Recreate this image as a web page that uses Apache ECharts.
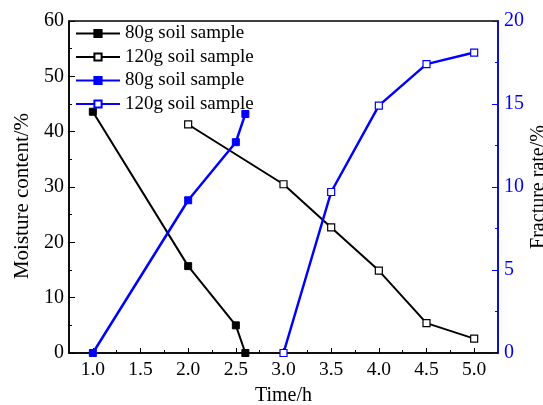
<!DOCTYPE html>
<html>
<head>
<meta charset="utf-8">
<script src="https://cdn.jsdelivr.net/npm/echarts@6/dist/echarts.min.js"></script>
<style>html,body{margin:0;padding:0;background:#fff;}#c{width:543px;height:405px;}</style>
</head>
<body>
<div id="c"></div>
<script>
var xMajorTicks = [1.0, 1.5, 2.0, 2.5, 3.0, 3.5, 4.0, 4.5, 5.0];
var xMinorTicks = [1.25, 1.75, 2.25, 2.75, 3.25, 3.75, 4.25, 4.75];
var moisture80 = [[1.0, 43.6], [2.0, 15.7], [2.5, 5.0], [2.6, 0]];
var moisture120 = [[2.0, 41.3], [3.0, 30.5], [3.5, 22.7], [4.0, 14.9], [4.5, 5.4], [5.0, 2.6]];
var fracture80 = [[1.0, 0], [2.0, 9.2], [2.5, 12.7], [2.6, 14.4]];
var fracture120 = [[3.0, 0], [3.5, 9.7], [4.0, 14.9], [4.5, 17.4], [5.0, 18.1]];
var seriesNames = ['80g soil sample', '120g soil sample', '80g soil sample ', '120g soil sample '];

var FONT = '"Liberation Serif", "Times New Roman", serif';
var BLUE = '#0000ff';
var chart = echarts.init(document.getElementById('c'), null, {renderer: 'canvas'});
chart.setOption({
  animation: false,
  backgroundColor: '#fff',
  grid: {left: 69, right: 45, top: 21, bottom: 52, outerBoundsMode: 'none', containLabel: false,
    show: true, borderColor: '#000', borderWidth: 1.5, backgroundColor: 'transparent'},
  legend: {
    orient: 'vertical', left: 70, top: 19, padding: 5, itemWidth: 44, itemHeight: 9, itemGap: 4.5,
    formatter: function (n) { return n.trim(); },
    textStyle: {fontFamily: FONT, fontSize: 19, color: '#000', lineHeight: 19},
    data: seriesNames
  },
  xAxis: [{
    type: 'value', min: 0.75, max: 5.25, position: 'bottom',
    name: 'Time/h', nameLocation: 'middle', nameGap: 33,
    nameTextStyle: {fontFamily: FONT, fontSize: 20, color: '#000'},
    axisLine: {show: true, lineStyle: {color: '#000', width: 1.5}},
    axisTick: {show: true, inside: true, length: 5, customValues: xMajorTicks, lineStyle: {color: '#000', width: 1}},
    axisLabel: {customValues: xMajorTicks, margin: 7, fontFamily: FONT, fontSize: 19.5, color: '#000',
      formatter: function (v) { return v.toFixed(1); }},
    splitLine: {show: false}
  }, {
    type: 'value', min: 0.75, max: 5.25, position: 'bottom',
    axisLine: {show: false},
    axisTick: {show: true, inside: true, length: 3, customValues: xMinorTicks, lineStyle: {color: '#000', width: 1}},
    axisLabel: {show: false},
    splitLine: {show: false}
  }],
  yAxis: [{
    type: 'value', min: 0, max: 60, interval: 10, position: 'left',
    name: 'Moisture content/%', nameLocation: 'middle', nameGap: 34,
    nameTextStyle: {fontFamily: FONT, fontSize: 21, color: '#000', padding: [0, 18, 0, 0]},
    axisLine: {show: true, lineStyle: {color: '#000', width: 1.5}},
    axisTick: {show: true, inside: true, length: 6, lineStyle: {color: '#000', width: 1}},
    minorTick: {show: true, splitNumber: 2, length: 3, lineStyle: {color: '#000', width: 1}},
    axisLabel: {margin: 5, fontFamily: FONT, fontSize: 20, color: '#000'},
    splitLine: {show: false}, minorSplitLine: {show: false}
  }, {
    type: 'value', min: 0, max: 20, interval: 5, position: 'right',
    name: 'Fracture rate/%', nameLocation: 'middle', nameGap: 31,
    nameMoveOverlap: false,
    nameTextStyle: {fontFamily: FONT, fontSize: 20, color: '#000'},
    axisLine: {show: true, lineStyle: {color: BLUE, width: 1.5}},
    axisTick: {show: true, inside: true, length: 6, lineStyle: {color: BLUE, width: 1}},
    minorTick: {show: true, splitNumber: 2, length: 3, lineStyle: {color: BLUE, width: 1}},
    axisLabel: {margin: 6, fontFamily: FONT, fontSize: 20, color: BLUE},
    splitLine: {show: false}, minorSplitLine: {show: false}
  }],
  series: [{
    name: seriesNames[0], type: 'line', xAxisIndex: 0, yAxisIndex: 0, data: moisture80,
    symbol: 'rect', symbolSize: 7,
    itemStyle: {color: '#000', borderColor: '#000', borderWidth: 1},
    lineStyle: {color: '#000', width: 2}
  }, {
    name: seriesNames[1], type: 'line', xAxisIndex: 0, yAxisIndex: 0, data: moisture120,
    symbol: 'rect', symbolSize: 7,
    itemStyle: {color: '#fff', borderColor: '#000', borderWidth: 1.2},
    lineStyle: {color: '#000', width: 2}
  }, {
    name: seriesNames[2], type: 'line', xAxisIndex: 0, yAxisIndex: 1, data: fracture80,
    symbol: 'rect', symbolSize: 7,
    itemStyle: {color: BLUE, borderColor: BLUE, borderWidth: 1},
    lineStyle: {color: BLUE, width: 2.5}
  }, {
    name: seriesNames[3], type: 'line', xAxisIndex: 0, yAxisIndex: 1, data: fracture120,
    symbol: 'rect', symbolSize: 7,
    itemStyle: {color: '#fff', borderColor: BLUE, borderWidth: 1.2},
    lineStyle: {color: BLUE, width: 2.5}
  }]
});
</script>
</body>
</html>
